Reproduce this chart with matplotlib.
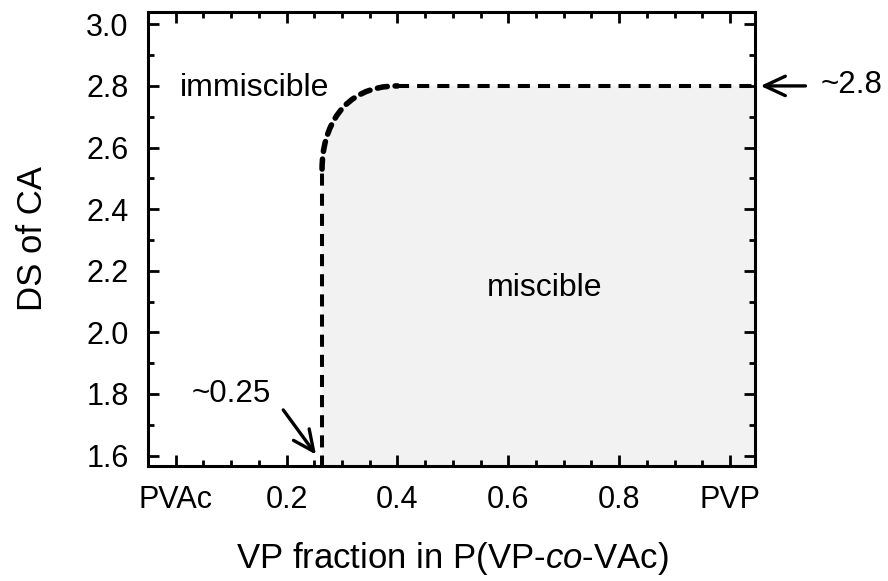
import matplotlib
matplotlib.use('Agg')
import matplotlib.pyplot as plt
from matplotlib.path import Path
from matplotlib.patches import PathPatch
from matplotlib.ticker import FixedLocator, MultipleLocator

plt.rcParams['font.family'] = ['Liberation Sans', 'DejaVu Sans']
plt.rcParams['mathtext.fontset'] = 'custom'
plt.rcParams['mathtext.rm'] = 'Liberation Sans'
plt.rcParams['mathtext.it'] = 'Liberation Sans:italic'

# Axis ticks
x_tick_values = [0.0, 0.2, 0.4, 0.6, 0.8, 1.0]
x_tick_labels = ['PVAc', '0.2', '0.4', '0.6', '0.8', 'PVP']
y_tick_values = [1.6, 1.8, 2.0, 2.2, 2.4, 2.6, 2.8, 3.0]
x_limits = (-0.05, 1.045)
y_limits = (1.566, 3.04)

# Miscibility boundary
onset_fraction = 0.264            # VP fraction of the vertical boundary
ds_threshold = 2.8                # DS above which blends are immiscible
bend_x = [0.264, 0.264, 0.30, 0.40]   # Bezier control points of the rounded corner
bend_y = [2.53, 2.66, 2.80, 2.80]

# Annotations
onset_label = '~0.25'
onset_label_pos = (0.029, 1.775)
onset_arrow_tail = (0.194, 1.748)
onset_arrow_tip = (0.253, 1.603)
threshold_label = '~2.8'
threshold_label_pos = (1.163, 2.777)
threshold_arrow_tail = (1.136, 2.8)
threshold_arrow_tip = (1.055, 2.8)
region_labels = ['immiscible', 'miscible']
region_label_pos = [(0.007, 2.766), (0.665, 2.119)]

fig = plt.figure(figsize=(8.88, 5.81), dpi=100)
ax = fig.add_axes([148 / 888, 1 - 466 / 581, 607 / 888, 454 / 581])
ax.set_xlim(*x_limits)
ax.set_ylim(*y_limits)

y_lo = y_limits[0] - 0.2
x_hi = x_limits[1] + 0.2

# shaded miscible region
fill_verts = [(onset_fraction, y_lo),
              (bend_x[0], bend_y[0]),
              (bend_x[1], bend_y[1]), (bend_x[2], bend_y[2]), (bend_x[3], bend_y[3]),
              (x_hi, ds_threshold),
              (x_hi, y_lo),
              (onset_fraction, y_lo)]
fill_codes = [Path.MOVETO, Path.LINETO, Path.CURVE4, Path.CURVE4, Path.CURVE4,
              Path.LINETO, Path.LINETO, Path.CLOSEPOLY]
ax.add_patch(PathPatch(Path(fill_verts, fill_codes), facecolor='#f2f2f2',
                       edgecolor='none', zorder=1))

# dashed boundary
dash = (0, (3, 2))
ax.plot([onset_fraction, onset_fraction], [y_lo, bend_y[0]], color='black',
        lw=2.9, ls=dash, zorder=3)
corner = Path(list(zip(bend_x, bend_y)),
              [Path.MOVETO, Path.CURVE4, Path.CURVE4, Path.CURVE4])
ax.add_patch(PathPatch(corner, fill=False, edgecolor='black', lw=4.0,
                       ls=(0, (1.8, 1.4)), capstyle='round', zorder=3))
ax.plot([bend_x[-1], x_hi], [ds_threshold, ds_threshold], color='black',
        lw=2.9, ls=dash, zorder=3)

# region labels
for label, (lx, ly) in zip(region_labels, region_label_pos):
    ax.text(lx, ly, label, fontsize=23, ha='left' if label == 'immiscible' else 'center',
            va='baseline', zorder=4)

# arrows and values
arrow_style = dict(arrowstyle='->,head_length=0.75,head_width=0.35', lw=2.4,
                   color='black', shrinkA=0, shrinkB=0, mutation_scale=20)
ax.annotate('', xy=onset_arrow_tip, xytext=onset_arrow_tail,
            arrowprops=arrow_style, annotation_clip=False, zorder=5)
ax.text(*onset_label_pos, onset_label, fontsize=22.5, ha='left', va='baseline')
ax.annotate('', xy=threshold_arrow_tip, xytext=threshold_arrow_tail,
            arrowprops=arrow_style, annotation_clip=False, zorder=5)
ax.text(*threshold_label_pos, threshold_label, fontsize=22.5, ha='left',
        va='baseline', clip_on=False)

# ticks
ax.xaxis.set_major_locator(FixedLocator(x_tick_values))
ax.set_xticklabels(x_tick_labels)
ax.xaxis.set_minor_locator(MultipleLocator(0.05))
ax.yaxis.set_major_locator(FixedLocator(y_tick_values))
ax.set_yticklabels([f'{v:.1f}' for v in y_tick_values])
ax.yaxis.set_minor_locator(MultipleLocator(0.1))
ax.tick_params(which='both', direction='in', top=True, right=True, width=2.0,
               color='black')
ax.tick_params(which='major', length=8, labelsize=22, pad=14)
ax.tick_params(which='minor', length=4.5)

for spine in ax.spines.values():
    spine.set_linewidth(2.2)
    spine.set_zorder(6)

ax.set_xlabel(r'VP fraction in P(VP-$\mathit{co}$-VAc)', fontsize=25)
ax.set_ylabel('DS of CA', fontsize=25)
ax.xaxis.set_label_coords(0.5008, -0.163)
ax.yaxis.set_label_coords(-0.163, 0.5)

fig.savefig('out.png', dpi=100)
